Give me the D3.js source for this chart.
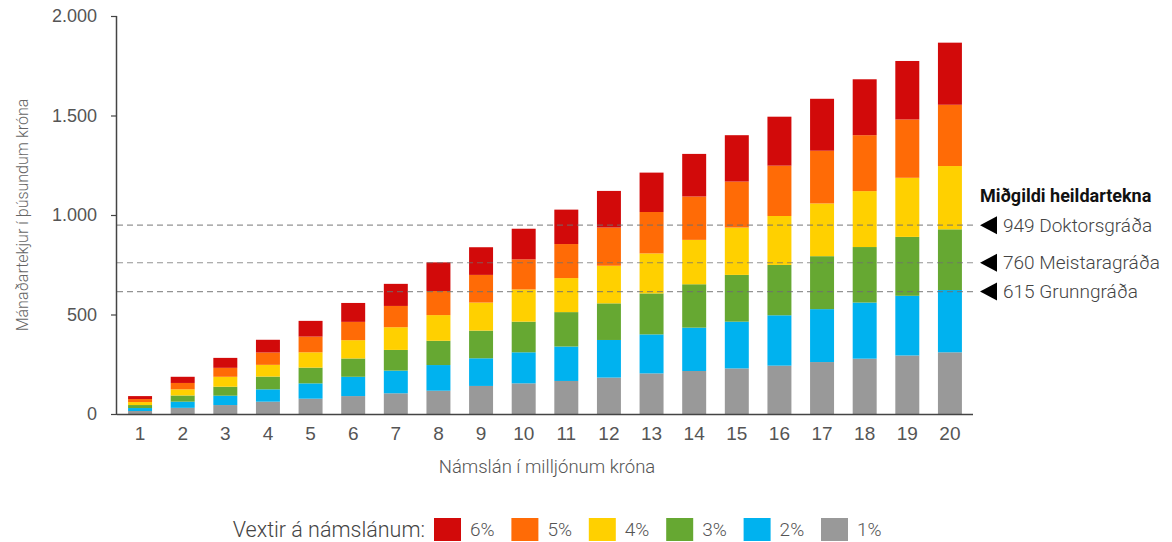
<!DOCTYPE html>
<html lang="is">
<head>
<meta charset="utf-8">
<script src="https://cdn.jsdelivr.net/npm/d3@7"></script>
<style>
  html, body { margin: 0; padding: 0; background: #fff; }
  svg { display: block; font-family: "Roboto", "Open Sans", sans-serif; }
</style>
</head>
<body>
<svg id="chart" width="1172" height="542"></svg>
<script>
// Námslán í milljónum króna
const loans = [1, 2, 3, 4, 5, 6, 7, 8, 9, 10, 11, 12, 13, 14, 15, 16, 17, 18, 19, 20];

// Hluti mánaðartekna (þús. kr.) fyrir hvert vaxtastig, staflað frá 1% upp í 6%
const rate1 = [15, 31, 45, 62, 77, 90, 104, 117, 141, 154, 166, 183, 204, 216, 229, 243, 261, 278, 294, 310];
const rate2 = [15, 31, 47, 62, 77, 97, 114, 129, 139, 156, 173, 189, 196, 218, 235, 253, 266, 282, 300, 313];
const rate3 = [15, 31, 45, 64, 79, 92, 104, 122, 139, 154, 173, 184, 206, 218, 235, 253, 266, 279, 296, 305];
const rate4 = [15, 31, 50, 59, 77, 92, 114, 129, 141, 162, 171, 189, 201, 223, 238, 246, 265, 281, 297, 318];
const rate5 = [15, 32, 45, 62, 79, 92, 107, 121, 139, 151, 171, 192, 208, 218, 231, 253, 265, 281, 293, 308];
const rate6 = [15, 31, 50, 64, 79, 95, 111, 144, 139, 154, 173, 184, 198, 214, 233, 246, 261, 281, 294, 312];

const rateKeys = ["1%", "2%", "3%", "4%", "5%", "6%"];
const rateColors = ["#999999", "#00b2ef", "#66a832", "#ffd000", "#ff6b06", "#d20a0a"];

// Miðgildi heildartekna eftir menntun
const medianValues = [949, 760, 615];
const medianLabels = ["Doktorsgráða", "Meistaragráða", "Grunngráða"];

const yTicks = [0, 500, 1000, 1500, 2000];

const svg = d3.select("#chart");
const margin = { left: 117, right: 199, top: 16, bottom: 128 };
const W = 1172, H = 542;

const rows = loans.map((l, i) => ({
  loan: l,
  "1%": rate1[i], "2%": rate2[i], "3%": rate3[i],
  "4%": rate4[i], "5%": rate5[i], "6%": rate6[i]
}));
const stacked = d3.stack().keys(rateKeys)(rows);

const x = d3.scaleBand()
  .domain(loans)
  .range([margin.left, W - margin.right])
  .paddingInner(0.4375)
  .paddingOuter(0.26);

const y = d3.scaleLinear()
  .domain([0, 2000])
  .range([H - margin.bottom, margin.top]);

const locale = d3.formatLocale({ decimal: ",", thousands: ".", grouping: [3], currency: ["", " kr."] });
const fmt = locale.format(",d");

// Súlur
const layers = svg.append("g")
  .selectAll("g")
  .data(stacked)
  .join("g")
  .attr("fill", (d, i) => rateColors[i]);

layers.selectAll("rect")
  .data(d => d)
  .join("rect")
  .attr("x", d => x(d.data.loan))
  .attr("width", x.bandwidth())
  .attr("y", d => y(d[1]))
  .attr("height", d => y(d[0]) - y(d[1]));

// Viðmiðunarlínur fyrir miðgildi tekna
svg.append("g")
  .selectAll("line")
  .data(medianValues)
  .join("line")
  .attr("x1", margin.left)
  .attr("x2", 976)
  .attr("y1", d => y(d))
  .attr("y2", d => y(d))
  .attr("stroke", "#6f6f6f")
  .attr("stroke-opacity", 0.75)
  .attr("stroke-width", 1.1)
  .attr("stroke-dasharray", "6,4");

// Y-ás
const yAxis = svg.append("g")
  .attr("transform", `translate(${margin.left},0)`)
  .call(d3.axisLeft(y).tickValues(yTicks).tickFormat(fmt).tickSize(6).tickPadding(14));
yAxis.select(".domain").attr("stroke", "#444").attr("stroke-width", 1.5).attr("d", `M-0.5,${y(0)}V${y(2000)}`);
yAxis.selectAll(".tick line").attr("stroke", "#444").attr("stroke-width", 1.2);
yAxis.selectAll(".tick text").attr("fill", "#555").attr("font-size", 18).attr("font-weight", 300);

// X-ás
const xAxis = svg.append("g")
  .attr("transform", `translate(0,${y(0)})`)
  .call(d3.axisBottom(x).tickSize(0).tickPadding(13));
xAxis.select(".domain").attr("stroke", "#444").attr("stroke-width", 1.5)
  .attr("d", `M${margin.left},0.5H${W - margin.right}`);
xAxis.selectAll(".tick text").attr("fill", "#555").attr("font-size", 19).attr("font-weight", 300);

// Ásaheiti
svg.append("text")
  .attr("transform", `translate(28,${(y(0) + y(2000)) / 2}) rotate(-90)`)
  .attr("text-anchor", "middle")
  .attr("fill", "#666")
  .attr("font-size", 16)
  .attr("font-weight", 300)
  .text("Mánaðartekjur í þúsundum króna");

svg.append("text")
  .attr("x", 547)
  .attr("y", 473)
  .attr("text-anchor", "middle")
  .attr("fill", "#555")
  .attr("font-size", 18.5)
  .attr("font-weight", 300)
  .text("Námslán í milljónum króna");

// Skýringar við viðmiðunarlínur
const ann = svg.append("g");
const annTitle = ann.append("text")
  .attr("x", 980)
  .attr("y", 202)
  .attr("fill", "#111")
  .attr("font-size", 18)
  .attr("font-weight", 700)
  .text("Miðgildi heildartekna");
// Fyrirsögnin má ekki ná út fyrir hægri brún
const maxTitle = W - 980 - 6;
const tw = annTitle.node().getComputedTextLength();
if (tw > maxTitle) annTitle.attr("font-size", 18 * maxTitle / tw);

const annRows = ann.selectAll("g.row")
  .data(medianValues.map((v, i) => ({ v, label: medianLabels[i] })))
  .join("g")
  .attr("class", "row")
  .attr("transform", d => `translate(0,${y(d.v)})`);

annRows.append("path")
  .attr("d", "M980,0L997,-9L997,9Z")
  .attr("fill", "#000");

annRows.append("text")
  .attr("x", 1003)
  .attr("dy", "0.35em")
  .attr("fill", "#444")
  .attr("font-size", 19)
  .attr("font-weight", 300)
  .text(d => `${d.v} ${d.label}`);

// Skýringartexti fyrir liti
const legend = svg.append("g").attr("transform", "translate(0,529)");
legend.append("text")
  .attr("x", 425)
  .attr("dy", "0.35em")
  .attr("text-anchor", "end")
  .attr("fill", "#444")
  .attr("font-size", 21.5)
  .attr("font-weight", 300)
  .text("Vextir á námslánum:");

const legendOrder = rateKeys.map((k, i) => ({ k, c: rateColors[i] })).reverse();
const item = legend.selectAll("g.item")
  .data(legendOrder)
  .join("g")
  .attr("class", "item")
  .attr("transform", (d, i) => `translate(${434 + i * 77.4},0)`);

item.append("rect")
  .attr("x", 0)
  .attr("y", -11)
  .attr("width", 27)
  .attr("height", 23)
  .attr("fill", d => d.c);

item.append("text")
  .attr("x", 36)
  .attr("dy", "0.35em")
  .attr("fill", "#555")
  .attr("font-size", 19)
  .attr("font-weight", 300)
  .text(d => d.k);
</script>
</body>
</html>
